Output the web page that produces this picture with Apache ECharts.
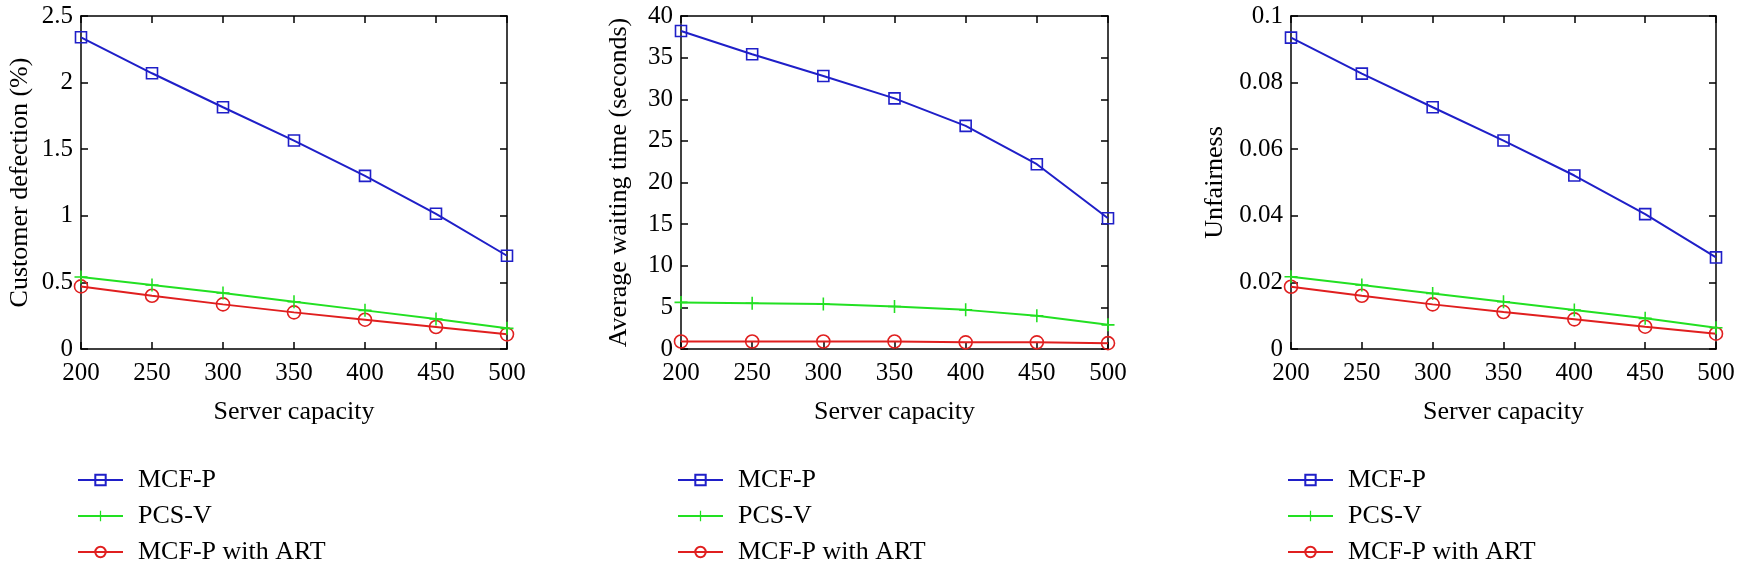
<!DOCTYPE html>
<html>
<head>
<meta charset="utf-8">
<script src="https://cdn.jsdelivr.net/npm/echarts@6/dist/echarts.min.js"></script>
<style>
html,body{margin:0;padding:0;background:#fff;}
#chart{width:1742px;height:570px;}
</style>
</head>
<body>
<div id="chart"></div>
<script>
// ---- data ----
const capacity = [200, 250, 300, 350, 400, 450, 500];
const seriesNames = ['MCF-P', 'PCS-V', 'MCF-P with ART'];

const defectionMCFP = [2.34, 2.07, 1.815, 1.565, 1.30, 1.015, 0.70];
const defectionPCSV = [0.54, 0.48, 0.42, 0.355, 0.29, 0.225, 0.155];
const defectionART  = [0.47, 0.40, 0.335, 0.275, 0.22, 0.165, 0.11];

const waitMCFP = [38.2, 35.4, 32.8, 30.1, 26.8, 22.2, 15.7];
const waitPCSV = [5.6, 5.5, 5.4, 5.1, 4.7, 4.0, 2.9];
const waitART  = [0.9, 0.9, 0.9, 0.9, 0.8, 0.8, 0.7];

const unfairMCFP = [0.0935, 0.0827, 0.0726, 0.0626, 0.0521, 0.0405, 0.0275];
const unfairPCSV = [0.0217, 0.0192, 0.0167, 0.0142, 0.0117, 0.0092, 0.0064];
const unfairART  = [0.0187, 0.0160, 0.0134, 0.0111, 0.0089, 0.0067, 0.0046];

const yAxisNames = ['Customer defection (%)', 'Average waiting time (seconds)', 'Unfairness'];
const yMax = [2.5, 40, 0.1];
const yInterval = [0.5, 5, 0.02];
const xAxisName = 'Server capacity';

// ---- styling ----
const FONT = "'Liberation Serif', 'DejaVu Serif', serif";
const FS = 25;
const FS_NAME = 26;
const colors = ['#1f1fc8', '#22e022', '#e01f1f'];
const plusPath = 'path://M4.4,0H5.6V4.4H10V5.6H5.6V10H4.4V5.6H0V4.4H4.4Z';
const symbols = ['rect', plusPath, 'circle'];
const symbolSizes = [11, 13, 13];

const grids = [
  {left: 81, top: 16, width: 426, height: 333},
  {left: 681, top: 16, width: 427, height: 333},
  {left: 1291, top: 16, width: 425, height: 333}
];
const yNameGaps = [48, 49, 63];

const panelData = [
  [defectionMCFP, defectionPCSV, defectionART],
  [waitMCFP, waitPCSV, waitART],
  [unfairMCFP, unfairPCSV, unfairART]
];

const xAxes = [], yAxes = [], series = [], legends = [];
const axisLine = {show: true, onZero: false, lineStyle: {color: '#000', width: 1.5}};

grids.forEach((g, i) => {
  xAxes.push({
    type: 'value', gridIndex: i, min: 200, max: 500, interval: 50, position: 'bottom',
    name: xAxisName, nameLocation: 'middle', nameGap: 50,
    nameTextStyle: {fontFamily: FONT, fontSize: FS_NAME, color: '#000'},
    axisLine: axisLine,
    axisTick: {show: true, inside: true, length: 7, lineStyle: {color: '#000', width: 1.5}},
    axisLabel: {fontFamily: FONT, fontSize: FS, color: '#000', margin: 12},
    splitLine: {show: false}
  });
  xAxes.push({
    type: 'value', gridIndex: i, min: 200, max: 500, interval: 50, position: 'top',
    axisLine: axisLine,
    axisTick: {show: true, inside: true, length: 7, lineStyle: {color: '#000', width: 1.5}},
    axisLabel: {show: false},
    splitLine: {show: false}
  });
  yAxes.push({
    type: 'value', gridIndex: i, min: 0, max: yMax[i], interval: yInterval[i], position: 'left',
    name: yAxisNames[i], nameLocation: 'middle', nameGap: yNameGaps[i], nameRotate: 90,
    nameTextStyle: {fontFamily: FONT, fontSize: FS_NAME, color: '#000'},
    axisLine: axisLine,
    axisTick: {show: true, inside: true, length: 7, lineStyle: {color: '#000', width: 1.5}},
    axisLabel: {fontFamily: FONT, fontSize: FS, color: '#000', margin: 8},
    splitLine: {show: false}
  });
  yAxes.push({
    type: 'value', gridIndex: i, min: 0, max: yMax[i], interval: yInterval[i], position: 'right',
    axisLine: axisLine,
    axisTick: {show: true, inside: true, length: 7, lineStyle: {color: '#000', width: 1.5}},
    axisLabel: {show: false},
    splitLine: {show: false}
  });
  panelData[i].forEach((vals, s) => {
    series.push({
      name: seriesNames[s], type: 'line',
      xAxisIndex: i * 2, yAxisIndex: i * 2,
      data: capacity.map((c, k) => [c, vals[k]]),
      symbol: symbols[s], symbolSize: symbolSizes[s],
      showAllSymbol: true,
      lineStyle: {color: colors[s], width: 2},
      itemStyle: s === 1
        ? {color: colors[s], borderWidth: 0}
        : {color: 'rgba(255,255,255,0)', borderColor: colors[s], borderWidth: 1.6},
      emphasis: {disabled: true},
      animation: false,
      z: 3 - s
    });
  });
  legends.push({
    data: seriesNames, orient: 'vertical',
    left: g.left - 4, top: 467, height: 103, padding: 0,
    itemWidth: 45, itemHeight: 13, itemGap: 10,
    textStyle: {fontFamily: FONT, fontSize: FS_NAME, color: '#000', lineHeight: 26, padding: [0, 0, 0, 10]},
    selectedMode: false
  });
});

const chart = echarts.init(document.getElementById('chart'), null, {renderer: 'canvas'});
chart.setOption({
  backgroundColor: '#fff',
  animation: false,
  grid: grids.map(g => Object.assign({containLabel: false}, g)),
  xAxis: xAxes,
  yAxis: yAxes,
  legend: legends,
  series: series
});
</script>
</body>
</html>
